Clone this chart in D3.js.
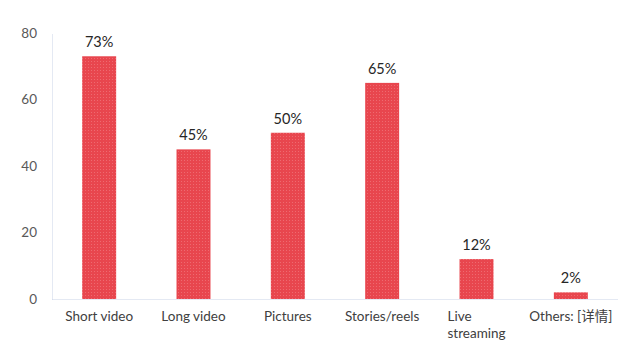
<!DOCTYPE html>
<html><head><meta charset="utf-8">
<script src="https://cdn.jsdelivr.net/npm/d3@7"></script>
<style>body{margin:0;background:#fff}svg{display:block}</style>
</head><body>
<svg id="c" width="640" height="362"></svg>
<script>
const categories = ["Short video","Long video","Pictures","Stories/reels","Live streaming","Others: [详情]"];
const values = [73,45,50,65,12,2];
const yTicks = [0,20,40,60,80];

const svg = d3.select("#c");
const m = {left:52, right:22, top:33, bottom:63};
const W = 640, H = 362;
const x = d3.scaleBand().domain(categories).range([m.left, W - m.right]).paddingInner(0.64).paddingOuter(0.32);
const y = d3.scaleLinear().domain([0,80]).range([H - m.bottom, m.top]);

const defs = svg.append("defs");
const pat = defs.append("pattern").attr("id","dots").attr("patternUnits","userSpaceOnUse").attr("width",3).attr("height",3);
pat.append("rect").attr("width",3).attr("height",3).attr("fill","#e8464e");
pat.append("rect").attr("x",1).attr("y",1).attr("width",1).attr("height",1).attr("fill","#ee6a70");

const font = "Lato,'Noto Sans CJK SC',sans-serif";

// y axis
const ya = svg.append("g").attr("transform",`translate(${m.left},0)`)
  .call(d3.axisLeft(y).tickValues(yTicks).tickSize(0).tickPadding(15));
ya.select(".domain").attr("stroke","#c9d3e6").attr("stroke-dasharray","1,1");
ya.selectAll("text").attr("fill","#595959").style("font-size","13.5px").style("font-family",font);

// x axis
const xa = svg.append("g").attr("transform",`translate(0,${y(0)})`)
  .call(d3.axisBottom(x).tickSize(0).tickFormat(""));
xa.select(".domain").attr("stroke","#c9d3e6").attr("stroke-dasharray","1,1");

// category labels
const lab = svg.append("g").selectAll("text").data(categories).join("text")
  .attr("fill","#404040").style("font-size","13.5px").style("font-family",font)
  .attr("y", y(0) + 22);
lab.each(function(d){
  const t = d3.select(this);
  const cx = x(d) + x.bandwidth()/2;
  if (d === "Live streaming") {
    t.attr("text-anchor","start");
    t.append("tspan").attr("x", cx - 29).text("Live");
    t.append("tspan").attr("x", cx - 29).attr("dy", 16.5).text("streaming");
  } else {
    t.attr("text-anchor","middle").attr("x", cx).text(d);
  }
});

// bars
svg.append("g").selectAll("rect").data(values).join("rect")
  .attr("x",(d,i)=>x(categories[i]))
  .attr("width", x.bandwidth())
  .attr("y", d=>y(d))
  .attr("height", d=>y(0)-y(d))
  .attr("fill","url(#dots)");

// value labels
svg.append("g").selectAll("text").data(values).join("text")
  .attr("x",(d,i)=>x(categories[i]) + x.bandwidth()/2)
  .attr("y", d=>y(d) - 9)
  .attr("text-anchor","middle")
  .attr("fill","#262626").style("font-size","14.5px").style("font-family",font)
  .text(d=>d+"%");
</script>
</body></html>
